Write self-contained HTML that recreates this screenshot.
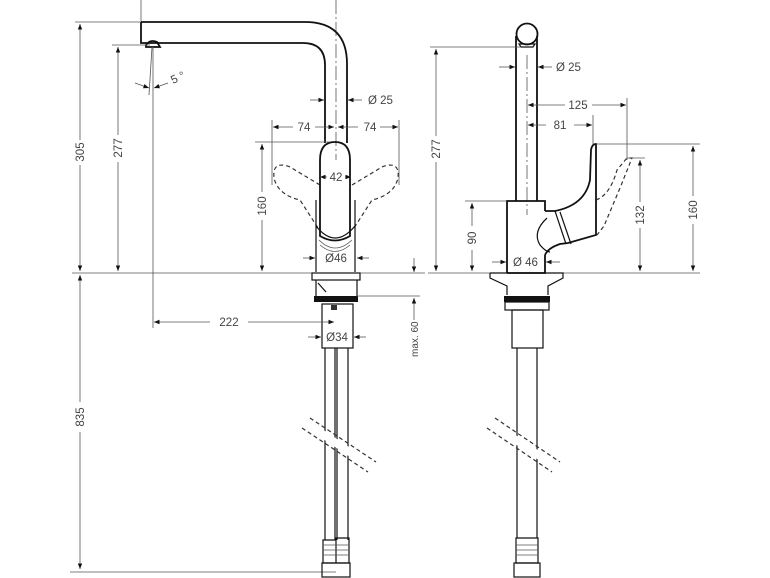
<!DOCTYPE html>
<html><head><meta charset="utf-8"><style>
html,body{margin:0;padding:0;background:#fff;}
svg{display:block;}
text{font-family:"Liberation Sans",sans-serif;font-size:11.5px;fill:#444;}
.d{stroke:#555;stroke-width:0.8;fill:none;}
.o{stroke:#111;stroke-width:1.8;fill:none;}
.t{stroke:#111;stroke-width:1.2;fill:none;}
.ds{stroke:#333;stroke-width:1.2;fill:none;stroke-dasharray:4 3;}
.c{stroke:#555;stroke-width:0.8;fill:none;stroke-dasharray:14 3 2 3;}
</style></head><body>
<svg width="770" height="578" viewBox="0 0 770 578" xmlns="http://www.w3.org/2000/svg">
<defs>
<marker id="a" viewBox="0 0 10 10" refX="10" refY="5" markerWidth="7" markerHeight="7" orient="auto-start-reverse"><path d="M0,1 L10,5 L0,9 z" fill="#111"/></marker>
</defs>
<line class="d" x1="72" y1="273" x2="425" y2="273"/>
<line class="d" x1="428" y1="273" x2="700" y2="273"/>
<line class="d" x1="70" y1="572" x2="336" y2="572"/>

<!-- LEFT VIEW -->
<line class="d" x1="141" y1="0" x2="141" y2="22"/>
<line class="c" x1="336" y1="0" x2="336" y2="160"/>
<path class="o" d="M141,22 L305,22 Q347,22 347,64 L347,143"/>
<path class="o" d="M141,22 L141,43 L303,43 Q325,43 325,65 L325,143"/>
<path class="o" d="M146,45 Q150,39 157,42 L160,47 L146,47 Z"/>
<line class="d" x1="75" y1="22" x2="140" y2="22"/>
<line class="d" x1="80" y1="24" x2="80" y2="140" marker-start="url(#a)"/>
<line class="d" x1="80" y1="165" x2="80" y2="271" marker-end="url(#a)"/>
<text transform="translate(84,152) rotate(-90)" text-anchor="middle">305</text>
<line class="d" x1="112" y1="45" x2="150" y2="45"/>
<line class="d" x1="118" y1="47" x2="118" y2="135" marker-start="url(#a)"/>
<line class="d" x1="118" y1="162" x2="118" y2="271" marker-end="url(#a)"/>
<text transform="translate(122,148) rotate(-90)" text-anchor="middle">277</text>
<line class="d" x1="153" y1="47" x2="153" y2="328"/>
<line class="d" x1="152" y1="47" x2="149" y2="95"/>
<line class="d" x1="135" y1="83" x2="149" y2="88" marker-end="url(#a)"/>
<line class="d" x1="168" y1="83" x2="154" y2="88" marker-end="url(#a)"/>
<text x="173" y="84" transform="rotate(-25 173 84)">5 °</text>
<line class="d" x1="310" y1="100" x2="324" y2="100" marker-end="url(#a)"/>
<line class="d" x1="362" y1="100" x2="348" y2="100" marker-end="url(#a)"/>
<text x="368" y="104">Ø  25</text>
<line class="d" x1="272" y1="120" x2="272" y2="185"/>
<line class="d" x1="399" y1="120" x2="399" y2="185"/>
<line class="d" x1="273" y1="127" x2="293" y2="127" marker-start="url(#a)"/>
<line class="d" x1="315" y1="127" x2="334" y2="127" marker-end="url(#a)"/>
<line class="d" x1="338" y1="127" x2="358" y2="127" marker-start="url(#a)"/>
<line class="d" x1="380" y1="127" x2="398" y2="127" marker-end="url(#a)"/>
<text x="304" y="131" text-anchor="middle">74</text>
<text x="370" y="131" text-anchor="middle">74</text>
<path class="ds" d="M320,185 L290,167 Q272,160 274,178 Q278,195 300,200 L318,228"/>
<path class="ds" d="M352,185 L382,167 Q400,160 398,178 Q394,195 372,200 L354,228"/>
<path class="o" d="M320,236 L320,160 Q320,142 335,142 Q350,142 350,160 L350,236 Q335,245 320,236 Z"/>
<path class="t" d="M316,200 L316,272 M355,200 L355,272"/>
<path class="t" d="M316,226 Q335,250 355,226"/>
<path class="d" d="M319,240 Q335,256 352,240 M320,245 Q335,258 350,245"/>
<line class="d" x1="320" y1="177" x2="327" y2="177" marker-start="url(#a)"/>
<line class="d" x1="345" y1="177" x2="351" y2="177" marker-end="url(#a)"/>
<text x="336" y="181" text-anchor="middle">42</text>
<line class="d" x1="255" y1="142" x2="330" y2="142"/>
<line class="d" x1="262" y1="144" x2="262" y2="192" marker-start="url(#a)"/>
<line class="d" x1="262" y1="220" x2="262" y2="271" marker-end="url(#a)"/>
<text transform="translate(266,206) rotate(-90)" text-anchor="middle">160</text>
<line class="d" x1="303" y1="258" x2="315" y2="258" marker-end="url(#a)"/>
<line class="d" x1="369" y1="258" x2="357" y2="258" marker-end="url(#a)"/>
<text x="336" y="262" text-anchor="middle">Ø46</text>
<rect class="t" x="312" y="273" width="48" height="7"/>
<path class="t" d="M316,280 L316,297 L357,297 L357,280"/>
<path class="t" d="M318,283 L326,292"/>
<rect x="314" y="296" width="44" height="6" fill="#111"/>
<rect class="t" x="322" y="304" width="31" height="44"/>
<rect x="331" y="305" width="6" height="5" fill="#333"/>
<line class="d" x1="357" y1="296" x2="420" y2="296"/>
<line class="d" x1="414" y1="258" x2="414" y2="272" marker-end="url(#a)"/>
<line class="d" x1="414" y1="320" x2="414" y2="298" marker-end="url(#a)"/>
<text transform="translate(418,357) rotate(-90)" style="font-size:10px">max. 60</text>
<line class="d" x1="154" y1="322" x2="210" y2="322" marker-start="url(#a)"/>
<line class="d" x1="248" y1="322" x2="334" y2="322" marker-end="url(#a)"/>
<text x="229" y="326" text-anchor="middle">222</text>
<line class="d" x1="308" y1="337" x2="321" y2="337" marker-end="url(#a)"/>
<line class="d" x1="366" y1="337" x2="354" y2="337" marker-end="url(#a)"/>
<text x="337" y="341" text-anchor="middle">Ø34</text>
<path class="t" d="M325,348 L325,540 M335,348 L335,540 M337,348 L337,540 M348,348 L348,540"/>
<polygon points="310,421 376,465 368,469 302,425" fill="#fff"/>
<path class="t" d="M323,540 h13 v23 h-13 z M336,538 h13 v25 h-13 z"/>
<path class="d" d="M323,545 h13 M323,550 h13 M323,555 h13 M336,545 h13 M336,550 h13 M336,555 h13"/>
<rect class="t" x="322" y="563" width="28" height="14"/>
<line class="ds" x1="310" y1="418" x2="376" y2="462"/>
<line class="ds" x1="302" y1="428" x2="368" y2="472"/>
<line class="d" x1="80" y1="275" x2="80" y2="402" marker-start="url(#a)"/>
<line class="d" x1="80" y1="432" x2="80" y2="569" marker-end="url(#a)"/>
<text transform="translate(84,417) rotate(-90)" text-anchor="middle">835</text>

<!-- RIGHT VIEW -->
<circle class="o" cx="527" cy="34" r="10.5"/>
<path class="o" d="M516,36 L516,201 M537,36 L537,201"/>
<path class="t" d="M519,44 L535,44 L533,47 L521,47 Z"/>
<line class="c" x1="527" y1="55" x2="527" y2="215"/>
<line class="d" x1="430" y1="47" x2="520" y2="47"/>
<line class="d" x1="436" y1="49" x2="436" y2="136" marker-start="url(#a)"/>
<line class="d" x1="436" y1="162" x2="436" y2="271" marker-end="url(#a)"/>
<text transform="translate(440,149) rotate(-90)" text-anchor="middle">277</text>
<line class="d" x1="499" y1="67" x2="515" y2="67" marker-end="url(#a)"/>
<line class="d" x1="552" y1="67" x2="538" y2="67" marker-end="url(#a)"/>
<text x="556" y="71">Ø  25</text>
<line class="d" x1="627" y1="98" x2="627" y2="160"/>
<line class="d" x1="593" y1="115" x2="593" y2="145"/>
<line class="d" x1="528" y1="105" x2="565" y2="105" marker-start="url(#a)"/>
<line class="d" x1="592" y1="105" x2="626" y2="105" marker-end="url(#a)"/>
<text x="578" y="109" text-anchor="middle">125</text>
<line class="d" x1="528" y1="125" x2="546" y2="125" marker-start="url(#a)"/>
<line class="d" x1="574" y1="125" x2="592" y2="125" marker-end="url(#a)"/>
<text x="560" y="129" text-anchor="middle">81</text>
<path class="o" d="M507,273 L507,201 L545,201 L545,211"/>
<path class="o" d="M507,273 L545,273 L545,255"/>
<path class="o" d="M545,211 L555,211 Q585,205 590,180 L591,150 Q592,144 596,144 L596,235 L568,243 L560,244 Q548,248 545,255"/>
<path class="t" d="M555,211 L566,244 M560,212 L571,244"/>
<path class="t" d="M547,218 Q532,232 540,245 Q546,252 550,252"/>
<path class="ds" d="M596,200 Q610,195 617,170 L627,158 L632,158 Q628,168 620,188 L604,226 L597,235"/>
<line class="d" x1="596" y1="144" x2="700" y2="144"/>
<line class="d" x1="627" y1="158" x2="645" y2="158"/>
<line class="d" x1="693" y1="146" x2="693" y2="196" marker-start="url(#a)"/>
<line class="d" x1="693" y1="224" x2="693" y2="271" marker-end="url(#a)"/>
<text transform="translate(697,210) rotate(-90)" text-anchor="middle">160</text>
<line class="d" x1="640" y1="160" x2="640" y2="202" marker-start="url(#a)"/>
<line class="d" x1="640" y1="228" x2="640" y2="271" marker-end="url(#a)"/>
<text transform="translate(644,215) rotate(-90)" text-anchor="middle">132</text>
<line class="d" x1="465" y1="201" x2="507" y2="201"/>
<line class="d" x1="472" y1="203" x2="472" y2="226" marker-start="url(#a)"/>
<line class="d" x1="472" y1="250" x2="472" y2="271" marker-end="url(#a)"/>
<text transform="translate(476,238) rotate(-90)" text-anchor="middle">90</text>
<line class="d" x1="492" y1="262" x2="506" y2="262" marker-end="url(#a)"/>
<line class="d" x1="560" y1="262" x2="546" y2="262" marker-end="url(#a)"/>
<text x="513" y="266">Ø  46</text>
<path class="t" d="M490,273 L563,273 L563,278 L548,286 L548,295 M490,273 L490,278 L507,286 L507,295"/>
<rect x="504" y="296" width="46" height="6" fill="#111"/>
<rect class="t" x="505" y="302" width="44" height="8"/>
<rect class="t" x="512" y="310" width="31" height="38"/>
<path class="t" d="M517,348 L517,538 M537,348 L537,538"/>
<polygon points="495,421 560,465 552,469 487,425" fill="#fff"/>
<path class="t" d="M516,538 h22 v25 h-22 z"/>
<path class="d" d="M516,545 h22 M516,550 h22 M516,555 h22"/>
<rect class="t" x="514" y="563" width="26" height="14"/>
<line class="ds" x1="495" y1="418" x2="560" y2="462"/>
<line class="ds" x1="487" y1="428" x2="552" y2="472"/>
</svg>
</body></html>
